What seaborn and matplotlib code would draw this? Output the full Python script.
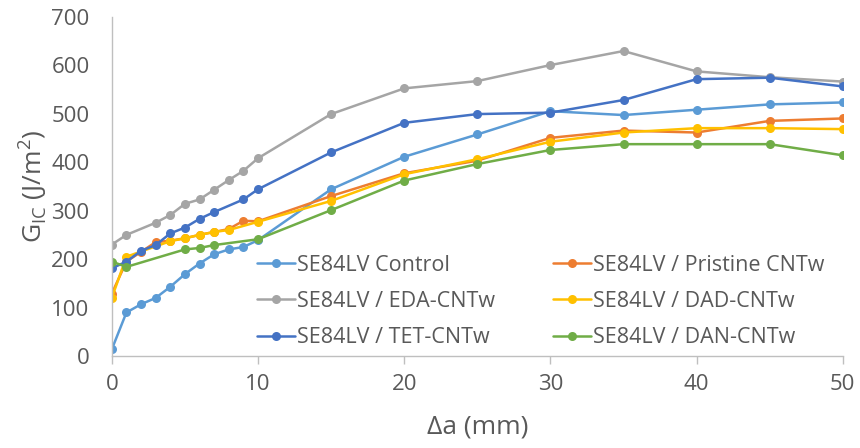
import matplotlib
matplotlib.use('Agg')
import matplotlib.pyplot as plt
import seaborn as sns
import pandas as pd
import numpy as np

# crack length (mm)
da = [0, 1, 2, 3, 4, 5, 6, 7, 8, 9, 10, 15, 20, 25, 30, 35, 40, 45, 50]
nan = np.nan

# G_IC values (J/m2), NaN where no marker is shown
control  = [14, 90, 107, 120, 143, 169, 191, 210, 220, 225, 239, 344, 411, 457, 505, 497, 508, 519, 523]
pristine = [129, 195, 215, 235, 238, 243, 250, 256, 262, 279, 278, 330, 377, 403, 450, 465, 461, 485, 490]
eda      = [230, 250, nan, 275, 291, 314, 323, 343, 363, 382, 408, 499, 552, 567, 600, 629, 587, 575, 566]
dad      = [120, 205, nan, nan, 237, 243, 250, 256, 260, nan, 277, 320, 375, 406, 442, 461, 470, 470, 468]
tet      = [181, 195, 217, 229, 253, 265, 283, 297, nan, 323, 344, 420, 481, 499, 502, 528, 571, 574, 556]
dan      = [195, 184, nan, nan, nan, 220, 223, 229, nan, nan, 241, 301, 362, 396, 425, 437, 437, 437, 414]

names = ['SE84LV Control', 'SE84LV / Pristine CNTw', 'SE84LV / EDA-CNTw',
         'SE84LV / DAD-CNTw', 'SE84LV / TET-CNTw', 'SE84LV / DAN-CNTw']
colors = ['#5B9BD5', '#ED7D31', '#A5A5A5', '#FFC000', '#4472C4', '#70AD47']

# long-form table for seaborn
frames = []
for name, vals in zip(names, [control, pristine, eda, dad, tet, dan]):
    frames.append(pd.DataFrame({'da': da, 'gic': vals, 'series': name}))
df = pd.concat(frames).dropna()

sns.set_style('white')
plt.rcParams['font.family'] = ['Open Sans', 'DejaVu Sans']
text_color = '#595959'
axis_color = '#BFBFBF'

fig = plt.figure(figsize=(8.6, 4.48), dpi=100)
ax = fig.add_axes([0.13, 0.205, 0.85, 0.758])

sns.lineplot(data=df, x='da', y='gic', hue='series', hue_order=names,
             palette=dict(zip(names, colors)), marker='o', markersize=6.5,
             markeredgewidth=0, linewidth=1.8, sort=False, ax=ax)

ax.set_xlim(0, 50)
ax.set_ylim(0, 700)
ax.set_xticks(range(0, 51, 10))
ax.set_yticks(range(0, 701, 100))

for s in ['top', 'right']:
    ax.spines[s].set_visible(False)
for s in ['left', 'bottom']:
    ax.spines[s].set_color(axis_color)
    ax.spines[s].set_linewidth(1.0)

ax.tick_params(axis='x', colors=text_color, labelsize=16, length=6,
               width=1, direction='out', color=axis_color, bottom=True, pad=7)
ax.tick_params(axis='y', colors=text_color, labelsize=16, length=0, pad=16)

ax.set_xlabel('Δa (mm)', fontsize=19, color=text_color, labelpad=14)
ax.set_ylabel(r'G$_\mathregular{IC}$ (J/m$^\mathregular{2}$)', fontsize=19,
              color=text_color, labelpad=2)

handles, labels = ax.get_legend_handles_labels()
# reorder so that the two-column legend reads row by row
order = [0, 2, 4, 1, 3, 5]
leg = ax.legend([handles[i] for i in order], [labels[i] for i in order],
                ncol=2, loc='upper left', bbox_to_anchor=(0.199, 0.298),
                frameon=False, fontsize=15.5, handlelength=1.75, handletextpad=0.1,
                columnspacing=2.7, labelspacing=0.7, borderaxespad=0, borderpad=0)
for t in leg.get_texts():
    t.set_color(text_color)

fig.savefig('out.png', dpi=100)
